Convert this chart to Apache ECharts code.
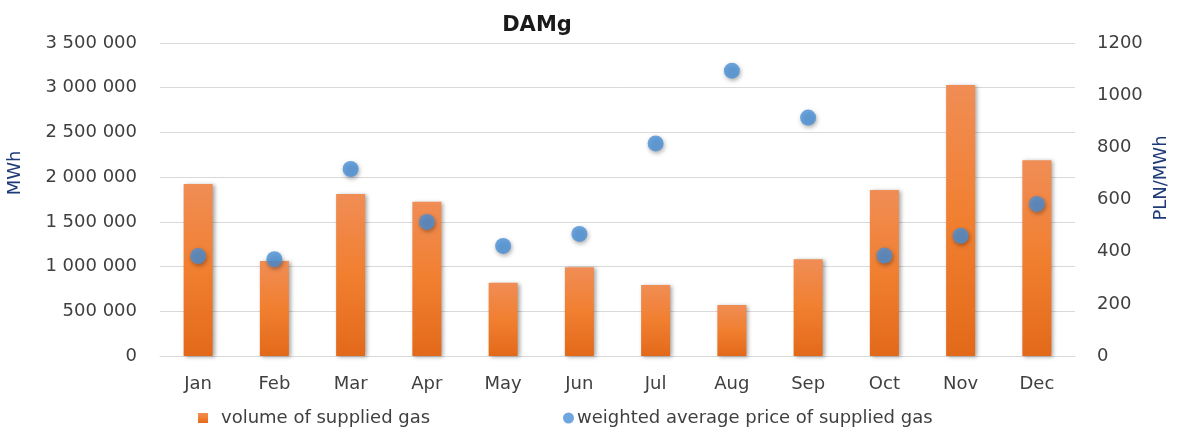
<!DOCTYPE html>
<html>
<head>
<meta charset="utf-8">
<script src="https://cdn.jsdelivr.net/npm/echarts@6/dist/echarts.min.js"></script>
<style>
  html, body { margin: 0; padding: 0; background: #fff; }
  #chart { width: 1180px; height: 427px; }
</style>
</head>
<body>
<div id="chart"></div>
<script>
// Monthly day-ahead gas market (DAMg) figures
const months = ['Jan', 'Feb', 'Mar', 'Apr', 'May', 'Jun', 'Jul', 'Aug', 'Sep', 'Oct', 'Nov', 'Dec'];
const volumeMWh = [1923000, 1062000, 1811000, 1725000, 820000, 992000, 794000, 570000, 1081000, 1856000, 3030000, 2188000];
const pricePLN = [383, 371, 717, 514, 422, 468, 815, 1094, 914, 385, 461, 583];
const volumeName = 'volume of supplied gas';
const priceName = 'weighted average price of supplied gas';
const leftAxisName = 'MWh';
const rightAxisName = 'PLN/MWh';

const FONT = '"DejaVu Sans", Verdana, sans-serif';
const TEXT = '#404040';
const AXIS_NAME = '#1f3a78';

// thousands grouped with spaces: 3 500 000
function spaced(v) {
  return String(v).replace(/\B(?=(\d{3})+(?!\d))/g, ' ');
}

const chart = echarts.init(document.getElementById('chart'), null, { renderer: 'canvas' });
chart.setOption({
  animation: false,
  backgroundColor: '#ffffff',
  textStyle: { fontFamily: FONT },
  title: {
    text: 'DAMg',
    left: 532, top: 10, textAlign: 'center',
    textStyle: { fontFamily: FONT, fontSize: 21, fontWeight: 'bold', color: '#1a1a1a' }
  },
  grid: { left: 160, right: 105, top: 43, bottom: 71 },
  legend: [
    {
      data: [{ name: volumeName, icon: 'rect' }],
      left: 193, top: 404, itemWidth: 10, itemHeight: 10,
      textStyle: { fontFamily: FONT, fontSize: 18, color: TEXT, padding: [0, 0, 0, 8] }
    },
    {
      data: [{ name: priceName, icon: 'circle' }],
      left: 558, top: 404, itemWidth: 11, itemHeight: 11,
      textStyle: { fontFamily: FONT, fontSize: 18, color: TEXT, padding: [0, 0, 0, -2] }
    }
  ],
  graphic: [
    {
      type: 'text', x: 15, y: 173, rotation: Math.PI / 2,
      style: { text: leftAxisName, fill: AXIS_NAME, font: '18px ' + FONT, align: 'center', verticalAlign: 'middle' }
    },
    {
      type: 'text', x: 1161, y: 178, rotation: Math.PI / 2,
      style: { text: rightAxisName, fill: AXIS_NAME, font: '18px ' + FONT, align: 'center', verticalAlign: 'middle' }
    }
  ],
  xAxis: {
    type: 'category',
    data: months,
    axisLine: { lineStyle: { color: '#d9d9d9' } },
    axisTick: { show: false },
    axisLabel: { color: TEXT, fontSize: 18, fontFamily: FONT, margin: 19 }
  },
  yAxis: [
    {
      type: 'value', min: 0, max: 3500000, interval: 500000,
      axisLine: { show: false }, axisTick: { show: false },
      axisLabel: { color: TEXT, fontSize: 18, fontFamily: FONT, margin: 23, formatter: spaced },
      splitLine: { lineStyle: { color: '#d9d9d9', width: 1 } }
    },
    {
      type: 'value', min: 0, max: 1200, interval: 200,
      axisLine: { show: false }, axisTick: { show: false },
      axisLabel: { color: TEXT, fontSize: 18, fontFamily: FONT, margin: 22, formatter: v => String(v) },
      splitLine: { show: false }
    }
  ],
  series: [
    {
      name: volumeName,
      type: 'bar',
      yAxisIndex: 0,
      data: volumeMWh,
      barWidth: 29,
      itemStyle: {
        color: new echarts.graphic.LinearGradient(0, 0, 0, 1, [
          { offset: 0, color: '#f08d55' },
          { offset: 0.5, color: '#f17f30' },
          { offset: 1, color: '#e3691a' }
        ]),
        shadowColor: 'rgba(0,0,0,0.35)', shadowBlur: 4, shadowOffsetX: 2, shadowOffsetY: 1
      }
    },
    {
      name: priceName,
      type: 'scatter',
      yAxisIndex: 1,
      data: pricePLN,
      symbol: 'circle',
      symbolSize: 16,
      itemStyle: {
        color: '#4a90d8',
        shadowColor: 'rgba(0,0,0,0.4)', shadowBlur: 4, shadowOffsetX: 1, shadowOffsetY: 2
      }
    }
  ]
});
</script>
</body>
</html>
